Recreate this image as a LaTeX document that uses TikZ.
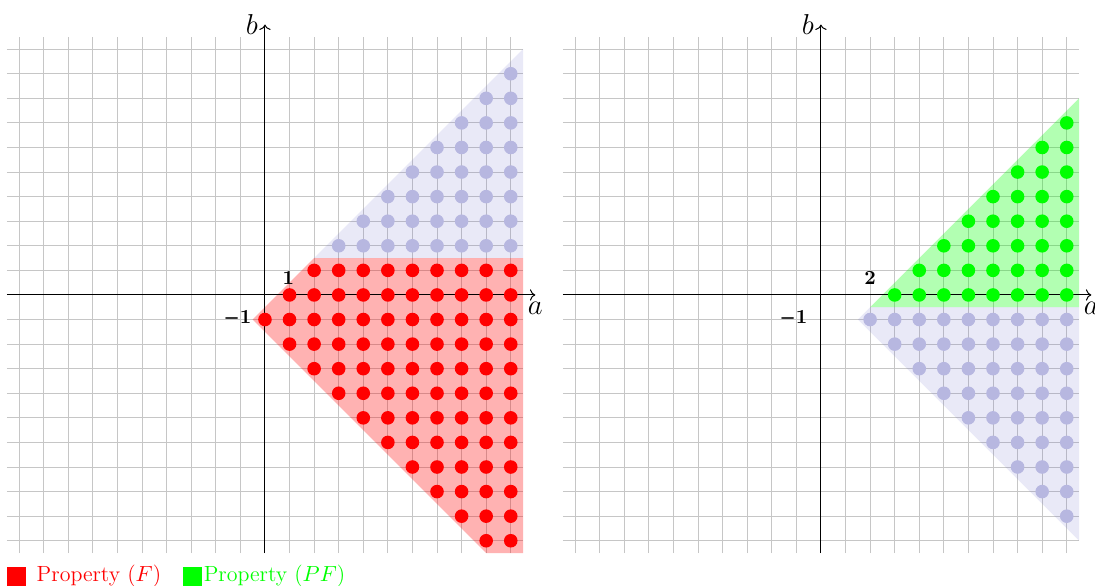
\documentclass[tikz,border=0pt]{standalone}
\usepackage{amsmath,amssymb}
\usepackage{tikz}
\usetikzlibrary{arrows.meta,positioning}

\definecolor{wedgeblue}{RGB}{110,110,200}
\definecolor{dotblue}{RGB}{183,183,224}

\begin{document}
\begin{tikzpicture}[
  x=12.3pt, y=12.3pt,
  gridline/.style={draw=gray!45, line width=0.5pt, step=1},
  axis/.style={->, line width=0.5pt},
  axislabel/.style={font=\fontsize{15pt}{18pt}\selectfont},
  wedge/.style={fill opacity=0.15, fill=wedgeblue},
  pointlabel/.style={font=\bfseries, inner sep=0pt},
  legsq/.style={minimum size=9.5pt, inner sep=0pt},
  legtext/.style={inner sep=0pt, font=\fontsize{11pt}{13pt}\selectfont}
]
  \useasboundingbox (-10.78,-11.84) rectangle (33.77,12.0);

  % left: property F
  \draw[gridline] (-10.5,-10.5) grid (10.5,10.5);
  \fill[wedge] (2,1.5) -- (10.5,10) -- (10.5,1.5) -- cycle;
  \fill[red, fill opacity=0.3] (-0.5,-1) -- (2,1.5) -- (10.5,1.5) -- (10.5,-10.5) -- (9,-10.5) -- cycle;
  \draw[axis] (-10.5,0) -- (11,0) node[below, axislabel] (aF) {$a$};
  \draw[axis] (0,-10.5) -- (0,11) node[left, axislabel] (bF) {$b$};
  \foreach \b in {-10,...,1} {
    \pgfmathtruncatemacro\amin{abs(\b+1)}
    \foreach \a in {\amin,...,10}
      \fill[red] (\a,\b) circle (3.4pt);
  }
  \foreach \b in {2,...,9} {
    \pgfmathtruncatemacro\amin{\b+1}
    \foreach \a in {\amin,...,10}
      \fill[dotblue] (\a,\b) circle (3.4pt);
  }
  \node[pointlabel] (oneF) at (0.95,0.7) {1};
  \node[pointlabel] (minusF) at (-1.1,-0.95) {$\pmb{-}\mathbf{1}$};

  % right: property PF
  \begin{scope}[shift={(22.62,0)}]
    \draw[gridline] (-10.5,-10.5) grid (10.5,10.5);
    \fill[wedge] (1.5,-1) -- (2,-0.5) -- (10.5,-0.5) -- (10.5,-10) -- cycle;
    \fill[green, fill opacity=0.3] (2,-0.5) -- (10.5,8) -- (10.5,-0.5) -- cycle;
    \draw[axis] (-10.5,0) -- (11,0) node[below, axislabel] (aPF) {$a$};
    \draw[axis] (0,-10.5) -- (0,11) node[left, axislabel] (bPF) {$b$};
    \foreach \b in {-9,...,-1} {
      \pgfmathtruncatemacro\amin{abs(\b+1)+2}
      \foreach \a in {\amin,...,10}
        \fill[dotblue] (\a,\b) circle (3.4pt);
    }
    \foreach \b in {0,...,7} {
      \pgfmathtruncatemacro\amin{\b+3}
      \foreach \a in {\amin,...,10}
        \fill[green] (\a,\b) circle (3.4pt);
    }
    \node[pointlabel] (twoPF) at (2,0.7) {2};
    \node[pointlabel] (minusPF) at (-1.1,-0.95) {$\pmb{-}\mathbf{1}$};
  \end{scope}

  % legend
  \node[legsq, fill=red] (sqF) at (-10.11,-11.45) {};
  \node[legtext, text=red, right=5pt of sqF] (legF) {Property ($F$)};
  \node[legsq, fill=green, right=10.5pt of legF] (sqPF) {};
  \node[legtext, text=green, right=0.5pt of sqPF] (legPF) {Property ($PF$)};
\end{tikzpicture}
\end{document}
